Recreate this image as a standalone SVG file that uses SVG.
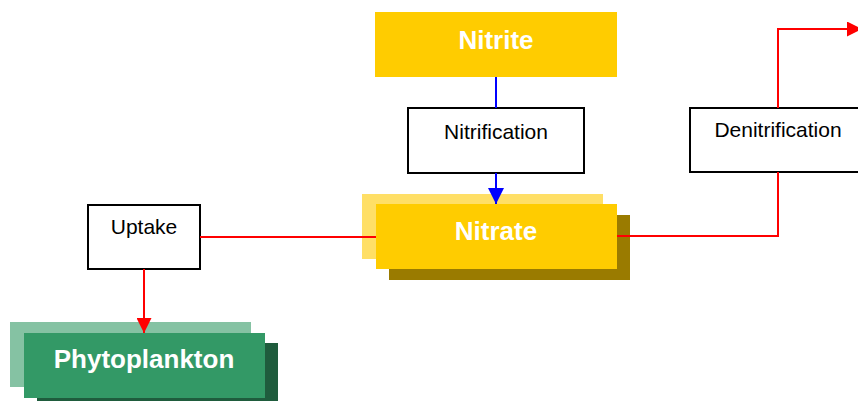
<svg xmlns="http://www.w3.org/2000/svg" width="858" height="401" viewBox="0 0 858 401">
<style>
.box{fill:#fff;stroke:#000;stroke-width:2}
.lbl{font-family:"Liberation Sans",Arial,sans-serif;font-size:21px;fill:#000;text-anchor:middle}
.big{font-family:"Liberation Sans",Arial,sans-serif;font-size:26px;font-weight:bold;fill:#fff;text-anchor:middle}
.red{stroke:#f00;stroke-width:2;fill:none}
.blue{stroke:#00f;stroke-width:2;fill:none}
</style>
<defs>
<marker id="ar" markerWidth="15" markerHeight="15" refX="15" refY="7.5" orient="auto" markerUnits="userSpaceOnUse" viewBox="0 0 15 15"><path d="M0,0 L15,7.5 L0,15 Z" fill="#f00"/></marker>
<marker id="ab" markerWidth="16" markerHeight="16" refX="16" refY="8" orient="auto" markerUnits="userSpaceOnUse" viewBox="0 0 16 16"><path d="M0,0 L16,8 L0,16 Z" fill="#00f"/></marker>
</defs>
<rect width="858" height="401" fill="#fff"/>
<g id="nitrite">
<rect x="375" y="12" width="242" height="65" fill="#FFCC00"/>
<text class="big" x="496" y="49">Nitrite</text>
</g>
<g id="nitrification">
<rect class="box" x="408" y="108" width="176" height="65"/>
<text class="lbl" x="496" y="139">Nitrification</text>
</g>
<g id="nitrate">
<rect x="389" y="215" width="241" height="65" fill="#9A7B00"/>
<rect x="362" y="194" width="241" height="65" fill="#FFDF66"/>
<rect x="376" y="204" width="241" height="65" fill="#FFCC00"/>
<text class="big" x="496" y="240">Nitrate</text>
</g>
<g id="denitrification">
<rect class="box" x="690" y="108" width="180" height="64"/>
<text class="lbl" x="778" y="137">Denitrification</text>
</g>
<g id="uptake">
<rect class="box" x="88" y="205" width="112" height="64"/>
<text class="lbl" x="144" y="234">Uptake</text>
</g>
<g id="phytoplankton">
<rect x="37" y="343" width="241" height="65" fill="#1F5C3D"/>
<rect x="10" y="322" width="241" height="65" fill="#85C2A3"/>
<rect x="24" y="333" width="241" height="65" fill="#339966"/>
<text class="big" x="144" y="368">Phytoplankton</text>
</g>
<g id="connectors">
<path class="blue" d="M496,77 V108"/>
<path class="blue" d="M496,173 V204" marker-end="url(#ab)"/>
<path class="red" d="M376,237 H200"/>
<path class="red" d="M144,269 V333" marker-end="url(#ar)"/>
<path class="red" d="M617,236 H778 V172"/>
<path class="red" d="M778,108 V29 H862" marker-end="url(#ar)"/>
</g>
</svg>
